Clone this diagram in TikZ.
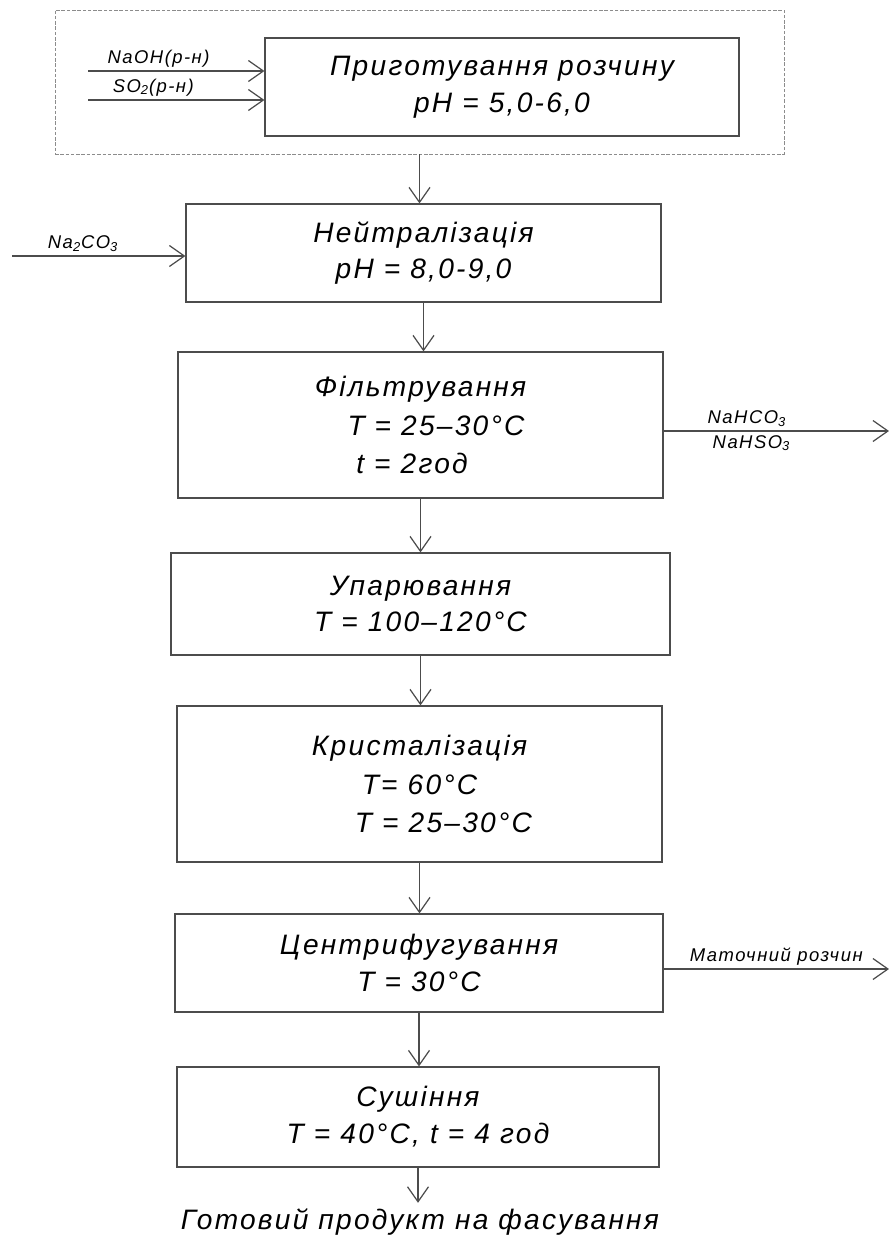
\documentclass[tikz,border=0pt]{standalone}
\usepackage{fontspec}
\setmainfont{Liberation Sans}[LetterSpace=8]
\usetikzlibrary{arrows.meta,positioning}

\begin{document}
\begin{tikzpicture}[x=0.02cm,y=-0.02cm,
        stage/.style={draw=black!70,line width=0.7pt,align=center,inner sep=0pt,
                      font=\fontsize{16}{21}\selectfont\itshape},
        flow/.style={draw=black!70,line width=0.7pt,-{Straight Barb[length=0.3cm,width=0.42cm]}},
        chem/.style={font=\fontsize{10.5}{12}\selectfont\itshape,inner sep=2pt}
    ]
        \useasboundingbox (0,0) rectangle (889,1252);
        \node[draw=black!45,dash pattern=on 2pt off 1pt,minimum width=14.58cm,minimum height=2.88cm] (prepgroup) at (419.5,82) {};
        \node[stage,minimum width=9.48cm,minimum height=1.96cm] (prep) at (502,87) {
            Приготування розчину\\pH = 5,0-6,0
        };
        \node[stage,minimum width=9.5cm,minimum height=1.96cm] (neutr) at (423.5,253) {
            Нейтралізація\\pH = 8,0-9,0
        };
        \node[stage,minimum width=9.7cm,minimum height=2.92cm] (filtr) at (420.5,425) {
            Фільтрування\\[1pt]\hspace*{1.1em}T = 25–30°C\\[1pt]t = 2год\hspace*{0.6em}
        };
        \node[stage,minimum width=9.98cm,minimum height=2.04cm] (evap) at (420.5,604) {
            Упарювання\\T = 100–120°C
        };
        \node[stage,minimum width=9.7cm,minimum height=3.12cm] (cryst) at (419.5,784) {
            Кристалізація\\[1pt]T= 60°C\\[1pt]\hspace*{1.7em}T = 25–30°C
        };
        \node[stage,minimum width=9.76cm,minimum height=1.96cm] (centr) at (419,963) {
            Центрифугування\\T = 30°C
        };
        \node[stage,minimum width=9.64cm,minimum height=2cm] (dry) at (418,1117) {
            Сушіння\\T = 40°C, t = 4 год
        };
        \node[stage,draw=none,inner sep=3pt] (product) at (420,1222) {Готовий продукт на фасування};

        \coordinate (naohIn) at (88,71);
        \coordinate (so2In) at (88,100);
        \coordinate (sodaIn) at (12,256);
        \coordinate (saltsOut) at (889,431);
        \coordinate (liquorOut) at (889,969);

        \draw[flow] (naohIn) -- (naohIn -| prep.west) node[chem,pos=0.4,above] {NaOH(р-н)};
        \draw[flow] (so2In) -- (so2In -| prep.west) node[chem,pos=0.37,above] {SO\textsubscript{2}(р-н)};
        \draw[flow] (sodaIn) -- (sodaIn -| neutr.west) node[chem,pos=0.41,above] {Na\textsubscript{2}CO\textsubscript{3}};
        \draw[flow] (saltsOut -| filtr.east) -- (saltsOut)
            node[chem,pos=0.37,above] {NaHCO\textsubscript{3}}
            node[chem,pos=0.39,below] {NaHSO\textsubscript{3}};
        \draw[flow] (liquorOut -| centr.east) -- (liquorOut) node[chem,midway,above] {Маточний розчин};

        \draw[flow] (prepgroup.south) -- (prepgroup.south |- neutr.north);
        \draw[flow] (neutr.south) -- (neutr.south |- filtr.north);
        \draw[flow] (filtr.south) -- (filtr.south |- evap.north);
        \draw[flow] (evap.south) -- (evap.south |- cryst.north);
        \draw[flow] (cryst.south) -- (cryst.south |- centr.north);
        \draw[flow] (centr.south) -- (centr.south |- dry.north);
        \draw[flow] (dry.south) -- (dry.south |- product.north);
    \end{tikzpicture}
\end{document}
